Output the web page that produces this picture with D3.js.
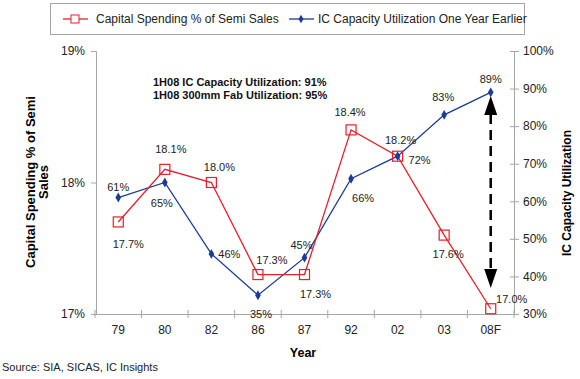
<!DOCTYPE html>
<html lang='en'>
	<head>
		<meta charset='utf-8'>
		<title>Capital Spending vs IC Capacity</title>
		<script src="https://cdn.jsdelivr.net/npm/d3@7"></script>
		<style type="text/css">
			body { margin: 0; background: #fff; }
			text { font-family: Arial, "Liberation Sans", sans-serif; }
		</style>
	</head>
	<body>
		<script type='text/javascript'>
			//Data
			var years = ["79", "80", "82", "86", "87", "92", "02", "03", "08F"];
			var capexPct = [17.7, 18.1, 18.0, 17.3, 17.3, 18.4, 18.2, 17.6, 17.04];
			var utilPct = [61, 65, 46, 35, 45, 66, 72, 83, 89];
			var leftTicks = [17, 18, 19];
			var rightTicks = [30, 40, 50, 60, 70, 80, 90, 100];

			//label offsets [dx, dy] relative to point
			var capexLabelPos = [[10, 22], [6, -20], [8, -16], [14, -15], [11, 19], [-1, -18], [3, -16], [4, 19], [21, -10]];
			var utilLabelPos = [[0, -11], [-3, 20], [18, 0], [3, 19], [-3, -13], [12, 19], [22, 4], [-1, -18], [0, -13]];

			var w = 580, h = 379;

			var svg = d3.select("body").append("svg")
						.attr("width", w)
						.attr("height", h);

			var x = d3.scaleBand().domain(years).range([95, 514]);
			var yL = d3.scaleLinear().domain([17, 19]).range([314, 51]);
			var yR = d3.scaleLinear().domain([30, 100]).range([314, 51]);

			var red = "#e3202b", blue = "#1d3a97", grey = "#a6a6a6";

			//Axes
			var xAxis = svg.append("g").attr("transform", "translate(0,314)")
				.call(d3.axisBottom(x).tickSize(0).tickPadding(11));
			xAxis.select(".domain").attr("stroke", grey);
			xAxis.selectAll("text").attr("font-size", 12).attr("fill", "#222");
			//category boundary ticks
			svg.selectAll(".xtick").data(years.concat(["end"])).enter().append("line")
				.attr("x1", function(d, i) { return i < years.length ? x(d) : x.range()[1]; })
				.attr("x2", function(d, i) { return i < years.length ? x(d) : x.range()[1]; })
				.attr("y1", 310).attr("y2", 318)
				.attr("stroke", grey);

			var lAxis = svg.append("g").attr("transform", "translate(96,0)")
				.call(d3.axisLeft(yL).tickValues(leftTicks).tickFormat(function(d) { return d + "%"; }).tickSizeOuter(0).tickSize(5).tickPadding(6));
			lAxis.select(".domain").attr("stroke", grey);
			lAxis.selectAll("line").attr("stroke", grey);
			lAxis.selectAll("text").attr("font-size", 12).attr("fill", "#222");

			var rAxis = svg.append("g").attr("transform", "translate(514,0)")
				.call(d3.axisRight(yR).tickValues(rightTicks).tickFormat(function(d) { return d + "%"; }).tickSizeOuter(0).tickSize(5).tickPadding(4));
			rAxis.select(".domain").attr("stroke", grey);
			rAxis.selectAll("line").attr("stroke", grey).attr("x1", -4);
			rAxis.selectAll("text").attr("font-size", 12).attr("fill", "#222");

			//Axis titles
			svg.append("text").attr("transform", "translate(35,182) rotate(-90)")
				.attr("text-anchor", "middle").attr("font-size", 13).attr("font-weight", "bold")
				.selectAll("tspan").data(["Capital Spending % of Semi", "Sales"]).enter().append("tspan")
				.attr("x", 0).attr("dy", function(d, i) { return i === 0 ? 0 : 13; })
				.text(function(d) { return d; });
			svg.append("text").attr("transform", "translate(571,193) rotate(-90)")
				.attr("text-anchor", "middle").attr("font-size", 12).attr("font-weight", "bold")
				.text("IC Capacity Utilization");
			svg.append("text").attr("x", 303).attr("y", 357)
				.attr("text-anchor", "middle").attr("font-size", 12.5).attr("font-weight", "bold")
				.text("Year");
			svg.append("text").attr("x", 2).attr("y", 371).attr("font-size", 11).attr("fill", "#222")
				.text("Source:  SIA, SICAS, IC Insights");

			//Annotation
			svg.selectAll(".note").data(["1H08 IC Capacity Utilization: 91%", "1H08 300mm Fab Utilization: 95%"])
				.enter().append("text")
				.attr("x", 153).attr("y", function(d, i) { return 86 + i * 13; })
				.attr("font-size", 11).attr("font-weight", "bold").attr("fill", "#111")
				.text(function(d) { return d; });

			//Dashed arrow
			var ax = x("08F") + x.bandwidth() / 2;
			svg.append("line").attr("x1", ax).attr("x2", ax).attr("y1", 114).attr("y2", 272)
				.attr("stroke", "#000").attr("stroke-width", 2.5).attr("stroke-dasharray", "10,6");
			svg.append("path").attr("d", "M" + ax + ",96L" + (ax - 6.5) + ",115L" + (ax + 6.5) + ",115Z").attr("fill", "#000");
			svg.append("path").attr("d", "M" + ax + ",288L" + (ax - 6.5) + ",269L" + (ax + 6.5) + ",269Z").attr("fill", "#000");

			var cx = function(d, i) { return x(years[i]) + x.bandwidth() / 2; };

			//Lines
			svg.append("path").datum(utilPct)
				.attr("d", d3.line().x(cx).y(function(d) { return yR(d); }))
				.attr("fill", "none").attr("stroke", blue).attr("stroke-width", 1.3);
			svg.append("path").datum(capexPct)
				.attr("d", d3.line().x(cx).y(function(d) { return yL(d); }))
				.attr("fill", "none").attr("stroke", red).attr("stroke-width", 1.3);

			//Markers
			svg.selectAll(".sq").data(capexPct).enter().append("rect")
				.attr("x", function(d, i) { return cx(d, i) - 5; })
				.attr("y", function(d) { return yL(d) - 5; })
				.attr("width", 10).attr("height", 10)
				.attr("fill", "none").attr("stroke", red).attr("stroke-width", 1.2);
			svg.selectAll(".dm").data(utilPct).enter().append("path")
				.attr("transform", function(d, i) { return "translate(" + cx(d, i) + "," + yR(d) + ")"; })
				.attr("d", d3.symbol().type(d3.symbolDiamond).size(28))
				.attr("fill", blue);

			//Value labels
			svg.selectAll(".cl").data(capexPct).enter().append("text")
				.attr("x", function(d, i) { return cx(d, i) + capexLabelPos[i][0]; })
				.attr("y", function(d, i) { return yL(d) + capexLabelPos[i][1] + 4; })
				.attr("text-anchor", "middle").attr("font-size", 11).attr("fill", "#222")
				.text(function(d) { return d.toFixed(1) + "%"; });
			svg.selectAll(".ul").data(utilPct).enter().append("text")
				.attr("x", function(d, i) { return cx(d, i) + utilLabelPos[i][0]; })
				.attr("y", function(d, i) { return yR(d) + utilLabelPos[i][1] + 4; })
				.attr("text-anchor", "middle").attr("font-size", 11).attr("fill", "#222")
				.text(function(d) { return d + "%"; });

			//Legend
			var lg = svg.append("g");
			lg.append("rect").attr("x", 50.5).attr("y", 3.5).attr("width", 474).attr("height", 31)
				.attr("fill", "#fff").attr("stroke", grey);
			lg.append("line").attr("x1", 63).attr("x2", 88).attr("y1", 19).attr("y2", 19).attr("stroke", red).attr("stroke-width", 1.3);
			lg.append("rect").attr("x", 71).attr("y", 15).attr("width", 8).attr("height", 8)
				.attr("fill", "#fff").attr("stroke", red);
			lg.append("text").attr("x", 96).attr("y", 23).attr("font-size", 12).attr("fill", "#222")
				.text("Capital Spending % of Semi Sales");
			lg.append("line").attr("x1", 289).attr("x2", 314).attr("y1", 19).attr("y2", 19).attr("stroke", blue).attr("stroke-width", 1.3);
			lg.append("path").attr("transform", "translate(301,19)")
				.attr("d", d3.symbol().type(d3.symbolDiamond).size(22)).attr("fill", blue);
			lg.append("text").attr("x", 318).attr("y", 23).attr("font-size", 12).attr("fill", "#222")
				.text("IC Capacity Utilization One Year Earlier");
		</script>
	</body>
</html>
